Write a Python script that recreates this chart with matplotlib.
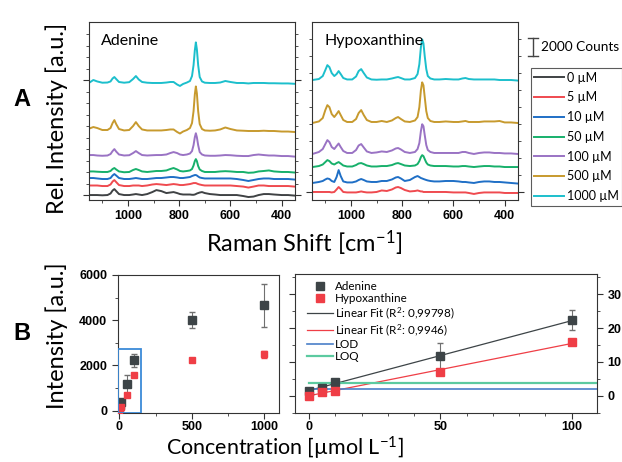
import matplotlib.pyplot as plt
import numpy as np
from matplotlib.lines import Line2D
from matplotlib.patches import Rectangle
from matplotlib.ticker import MultipleLocator
from matplotlib.transforms import blended_transform_factory

plt.rcParams['font.family'] = ['Lato', 'DejaVu Sans']
plt.rcParams['mathtext.fontset'] = 'custom'
plt.rcParams['mathtext.rm'] = 'Lato'
plt.rcParams['mathtext.it'] = 'Lato:italic'

# --- panel A: spectra (counts above each baseline) ---
conc_labels = ['0 µM', '5 µM', '10 µM', '50 µM', '100 µM', '500 µM', '1000 µM']
colors = ['#3f4244', '#ef4a4f', '#1f6fc6', '#17b06b', '#9a73c4', '#c79a2e', '#1cbfcc']

ade_shift = [1150, 1135, 1120, 1100, 1080, 1068, 1060, 1053, 1046, 1035,
             1015, 995, 980, 969, 958, 945, 925, 905, 889, 870,
             850, 835, 822, 808, 797, 785, 770, 758, 750, 744,
             739, 735, 731, 726, 720, 711, 700, 680, 660, 640,
             620, 600, 575, 550, 530, 510, 490, 470, 450, 430,
             400, 375, 350]
ade_0 = [0, 0, 0, -30, 0, 170, 500, 660, 440, 110, 0, 0, 60, 110, 60, 0, 110, 330, 550, 440,
         220, 280, 330, 220, 110, 60, 60, 60, 30, 30, 60, 110, 170, 220, 280, 330, 220, 110, 60, 0,
         0, 0, 0, -110, -220, -170, 0, 110, 110, 60, 0, 0, -60]
ade_5 = [60, 60, 60, 0, 0, 170, 500, 660, 440, 110, 0, 0, 60, 60, 60, 0, 60, 170, 220, 170,
         110, 170, 220, 170, 110, 110, 170, 220, 280, 330, 330, 330, 280, 220, 170, 110, 60, 60, 60, 60,
         60, 60, 0, -60, -170, -60, 60, 60, 0, 0, 0, 0, -60]
ade_10 = [110, 110, 60, 0, 0, 110, 390, 550, 390, 110, 0, 0, 60, 110, 60, 0, 0, 60, 110, 110,
          170, 220, 220, 170, 110, 110, 170, 220, 330, 390, 440, 440, 390, 280, 170, 110, 60, 60, 60, 60,
          60, 60, 0, -110, -220, -110, 0, 60, 60, 0, 0, 0, -60]
ade_50 = [60, 60, 30, 0, 0, 110, 330, 440, 280, 60, -30, 0, 220, 330, 220, 60, 0, 60, 110, 110,
          170, 330, 440, 280, 110, 60, 110, 170, 330, 720, 1210, 1430, 1210, 660, 280, 110, 0, 0, 0, 60,
          90, 60, 0, 0, -90, -60, 60, 110, 170, 60, 0, 0, -60]
ade_100 = [110, 110, 60, 30, 60, 220, 550, 770, 500, 170, 60, 90, 330, 550, 330, 110, 60, 90, 110, 110,
           170, 330, 440, 330, 170, 110, 170, 280, 550, 1210, 2090, 2530, 2090, 1210, 440, 170, 60, 30, 30, 60,
           110, 90, 30, 0, 0, 110, 170, 110, 60, 60, 0, 0, -60]
ade_500 = [280, 440, 330, 110, 110, 330, 880, 1210, 770, 220, 60, 110, 550, 990, 550, 170, 60, 60, 60, 60,
           110, 170, 170, -110, -280, -60, 110, 330, 880, 2200, 4070, 4950, 4180, 2200, 770, 220, 60, 30, 60, 170,
           390, 220, 60, 30, 0, 0, 0, 30, 0, 0, -60, -60, -110]
ade_1000 = [50, 330, 170, 30, 50, 170, 500, 660, 440, 110, 30, 90, 440, 770, 390, 110, 30, 0, 0, 0,
            50, 110, 110, -170, -330, -110, 50, 220, 770, 1980, 3630, 4510, 3740, 1980, 660, 170, 30, 0, 0, 50,
            220, 110, 0, 0, -50, 0, 0, 0, -30, -30, -50, -50, -90]
ade_offset = [550, 1550, 2330, 3110, 4880, 7660, 12990]

hyp_shift = [1150, 1125, 1110, 1100, 1092, 1084, 1075, 1065, 1056, 1048,
             1040, 1030, 1015, 995, 980, 970, 960, 950, 938, 920,
             900, 880, 860, 840, 825, 816, 805, 790, 770, 750,
             740, 733, 727, 722, 717, 712, 706, 700, 690, 675,
             655, 630, 600, 580, 565, 553, 540, 520, 500, 480,
             460, 440, 420, 400, 375, 350]
hyp_5 = [110, 110, 110, 110, 110, 110, 60, 110, 390, 660, 440, 110, 60, 60, 60, 110, 170, 110, 60, 60,
         110, 280, 220, 390, 610, 660, 550, 330, 170, 220, 280, 220, 170, 170, 110, 110, 110, 110, 110, 110,
         110, 110, 60, 60, 60, 60, 0, -110, 0, 60, 60, 60, 60, 0, 0, 0]
hyp_10 = [0, 110, 220, 390, 500, 440, 220, 110, 660, 1430, 770, 170, 60, 60, 170, 330, 440, 330, 170, 110,
          110, 220, 220, 390, 610, 660, 500, 220, 330, 660, 770, 660, 550, 500, 440, 390, 330, 280, 220, 170,
          170, 220, 220, 170, 110, 110, 60, 0, 110, 170, 170, 110, 110, 60, 0, -60]
hyp_50 = [0, 110, 280, 550, 770, 660, 390, 280, 440, 550, 390, 170, 60, 60, 220, 390, 440, 330, 170, 60,
          60, 110, 110, 220, 390, 440, 330, 170, 110, 170, 330, 660, 1100, 1320, 1210, 880, 500, 280, 170, 110,
          110, 110, 60, 60, 110, 110, 60, 0, 60, 110, 110, 60, 60, 0, 0, 0]
hyp_100 = [0, 220, 550, 1100, 1540, 1320, 770, 550, 880, 1160, 770, 330, 110, 110, 440, 940, 1100, 720, 280, 110,
           170, 280, 220, 390, 610, 660, 500, 220, 110, 220, 550, 1210, 2530, 3300, 3080, 2090, 990, 440, 220, 110,
           110, 110, 110, 110, 220, 220, 110, 0, 110, 170, 170, 110, 110, 60, 60, 0]
hyp_500 = [0, 170, 550, 1430, 1980, 1760, 990, 660, 990, 1320, 880, 330, 110, 110, 440, 1100, 1430, 880, 330, 110,
           110, 220, 110, 280, 550, 660, 440, 170, 110, 280, 660, 1760, 3630, 4510, 4180, 2860, 1320, 550, 220, 110,
           110, 170, 110, 110, 170, 220, 110, 110, 110, 170, 170, 170, 220, 60, 60, 0]
hyp_1000 = [0, 110, 440, 1100, 1650, 1430, 770, 440, 660, 990, 660, 220, 60, 60, 390, 990, 1210, 770, 280, 60,
            30, 60, 60, 170, 280, 330, 220, 60, 60, 220, 660, 1760, 3630, 4510, 4070, 2640, 1210, 440, 170, 60,
            60, 110, 60, 60, 170, 220, 110, 60, 60, 60, 60, 60, 0, 0, 0, -60]
hyp_offset = [780, 1890, 3660, 5110, 8550, 13320]

# --- panel B: peak intensities ---
conc = [0, 5, 10, 50, 100, 500, 1000]
ade_int = [150, 240, 400, 1160, 2230, 4000, 4670]
ade_err = [30, 40, 60, 410, 290, 350, 950]
hyp_int = [0, 120, 150, 700, 1580, 2260, 2490]
hyp_err = [20, 30, 60, 40, 60, 60, 150]
lod = 2.0
loq = 3.7

tickfont = dict(family='Liberation Sans', weight='bold', size=9)
spine_c = '#333333'
gray_c = '#3d4447'
red_c = '#ef3e46'

fig = plt.figure(figsize=(6.22, 4.62), dpi=100)
ax_a = fig.add_axes([0.1431, 0.5671, 0.3312, 0.3853])
ax_h = fig.add_axes([0.5016, 0.5671, 0.3312, 0.3853])
ax_bl = fig.add_axes([0.1892, 0.1067, 0.2593, 0.2981])
ax_br = fig.add_axes([0.4743, 0.1061, 0.4855, 0.3009])

ade_spectra = [ade_0, ade_5, ade_10, ade_50, ade_100, ade_500, ade_1000]
hyp_spectra = [hyp_5, hyp_10, hyp_50, hyp_100, hyp_500, hyp_1000]

handles = []
for spec, off, c, lab in zip(ade_spectra, ade_offset, colors, conc_labels):
    ln, = ax_a.plot(ade_shift, np.array(spec) + off, color=c, lw=1.4, label=lab)
    handles.append(ln)
for spec, off, c in zip(hyp_spectra, hyp_offset, colors[1:]):
    ax_h.plot(hyp_shift, np.array(spec) + off, color=c, lw=1.4)

for ax, name in [(ax_a, 'Adenine'), (ax_h, 'Hypoxanthine')]:
    ax.set_xlim(1152, 348)
    ax.set_ylim(0, 19760)
    ax.xaxis.set_major_locator(MultipleLocator(200))
    ax.xaxis.set_minor_locator(MultipleLocator(100))
    ax.text(0.06, 0.93, name, transform=ax.transAxes, fontsize=11.5, va='top')

ax_a.set_yticks([555 + 1276 * i for i in (0, 10)])
ax_a.set_yticks([555 + 1276 * i for i in range(15)], minor=True)
ax_a.tick_params(axis='y', which='both', left=True, right=True, labelleft=False)
ax_h.set_yticks([890])
ax_h.set_yticks([890 + 1890 * i for i in range(10)], minor=True)
ax_h.tick_params(axis='y', which='both', left=True, right=True, labelleft=False)

# scale bar
tr = blended_transform_factory(ax_h.transAxes, ax_h.transData)
ax_h.plot([1.073, 1.073], [15980, 17980], color='#444444', lw=1, transform=tr, clip_on=False)
ax_h.plot([1.05, 1.096], [15980, 15980], color='#444444', lw=1, transform=tr, clip_on=False)
ax_h.plot([1.05, 1.096], [17980, 17980], color='#444444', lw=1, transform=tr, clip_on=False)
ax_h.text(1.11, 16980, '2000 Counts', transform=tr, fontsize=9.8, va='center', ha='left')

leg = fig.legend(handles=handles, loc='upper left', bbox_to_anchor=(0.853, 0.853),
                 fontsize=9, frameon=True, fancybox=False, edgecolor='#333333',
                 handlelength=2.4, handletextpad=0.2, labelspacing=0.62,
                 borderpad=0.3, borderaxespad=0)
leg.get_frame().set_linewidth(0.8)

# --- panel B left ---
ax_bl.errorbar(conc, ade_int, yerr=ade_err, fmt='s', color=gray_c, ms=5.5,
               ecolor='#707070', elinewidth=0.8, capsize=2, zorder=3)
ax_bl.errorbar(conc, hyp_int, yerr=hyp_err, fmt='s', color=red_c, ms=4.5,
               ecolor=red_c, elinewidth=0.8, capsize=2, zorder=3)
ax_bl.add_patch(Rectangle((-12, -88), 158, 2800, fill=False, ec='#3b8ad8', lw=1.3, zorder=4))
ax_bl.set_xlim(-12, 1100)
ax_bl.set_ylim(-90, 6000)
ax_bl.xaxis.set_major_locator(MultipleLocator(500))
ax_bl.xaxis.set_minor_locator(MultipleLocator(250))
ax_bl.yaxis.set_major_locator(MultipleLocator(2000))
ax_bl.yaxis.set_minor_locator(MultipleLocator(1000))

# --- panel B right (hundreds of counts) ---
conc_lo = np.array(conc[:5])
ade_lo = np.array(ade_int[:5]) / 100
hyp_lo = np.array(hyp_int[:5]) / 100
ax_br.errorbar(conc_lo, ade_lo, yerr=np.array(ade_err[:5]) / 100, fmt='s', color=gray_c, ms=5.5,
               ecolor='#707070', elinewidth=0.8, capsize=2, zorder=4)
ax_br.errorbar(conc_lo, hyp_lo, yerr=np.array(hyp_err[:5]) / 100, fmt='s', color=red_c, ms=5.5,
               ecolor=red_c, elinewidth=0.8, capsize=2, zorder=4)
fit_x = np.array([0, 100])
pa = np.polyfit(conc_lo, ade_lo, 1)
ph = np.polyfit(conc_lo, hyp_lo, 1)
fa, = ax_br.plot(fit_x, np.polyval(pa, fit_x), color=gray_c, lw=0.9)
fh, = ax_br.plot(fit_x, np.polyval(ph, fit_x), color=red_c, lw=0.9)
l_lod, = ax_br.plot([0, 110], [lod, lod], color='#4a7fc8', lw=1.2)
l_loq, = ax_br.plot([0, 110], [loq, loq], color='#5ccaa0', lw=1.6)
ax_br.set_xlim(-5.3, 109.6)
ax_br.set_ylim(-5.1, 36)
ax_br.xaxis.set_major_locator(MultipleLocator(50))
ax_br.xaxis.set_minor_locator(MultipleLocator(10))
ax_br.yaxis.set_major_locator(MultipleLocator(10))
ax_br.yaxis.set_minor_locator(MultipleLocator(5))
ax_br.tick_params(axis='y', which='both', left=True, right=True, labelleft=False, labelright=True)
mk_a = Line2D([], [], ls='none', marker='s', color=gray_c, ms=5.5)
mk_h = Line2D([], [], ls='none', marker='s', color=red_c, ms=5.5)
ax_br.legend([mk_a, mk_h, fa, fh, l_lod, l_loq],
             ['Adenine', 'Hypoxanthine', 'Linear Fit (R$^2$: 0,99798)',
              'Linear Fit (R$^2$: 0,9946)', 'LOD', 'LOQ'],
             loc='upper left', frameon=False, fontsize=8.4, handlelength=2.3,
             handletextpad=0.1, labelspacing=0.1, borderaxespad=0.2,
             bbox_to_anchor=(0.015, 1.0))

for ax in (ax_a, ax_h, ax_bl, ax_br):
    for s in ax.spines.values():
        s.set_color(spine_c)
    ax.tick_params(which='both', direction='out', color=spine_c)
    ax.tick_params(which='major', length=4)
    ax.tick_params(which='minor', length=2.5)
for ax in (ax_bl, ax_br):
    ax.tick_params(axis='x', pad=2)

# labels
fig.text(57 / 622, 1 - 118 / 462, 'Rel. Intensity [a.u.]', rotation=90, ha='center', va='center', fontsize=17)
fig.text(304 / 622, 1 - 243 / 462, 'Raman Shift [cm$^{-1}$]', ha='center', va='center', fontsize=17)
fig.text(57 / 622, 1 - 336 / 462, 'Intensity [a.u.]', rotation=90, ha='center', va='center', fontsize=17)
fig.text(285 / 622, 1 - 448 / 462, 'Concentration [µmol L$^{-1}$]', ha='center', va='center', fontsize=15.5)
fig.text(22 / 622, 1 - 100 / 462, 'A', ha='center', va='center', fontsize=17,
         family='Liberation Sans', weight='bold')
fig.text(22 / 622, 1 - 333 / 462, 'B', ha='center', va='center', fontsize=17,
         family='Liberation Sans', weight='bold')

fig.canvas.draw()
for ax in (ax_a, ax_h, ax_bl, ax_br):
    for t in ax.get_xticklabels() + ax.get_yticklabels(which='both'):
        t.set_fontproperties(tickfont)
    for t in ax.yaxis.get_ticklabels(which='major'):
        t.set_fontproperties(tickfont)

fig.savefig('out.png', dpi=100)
